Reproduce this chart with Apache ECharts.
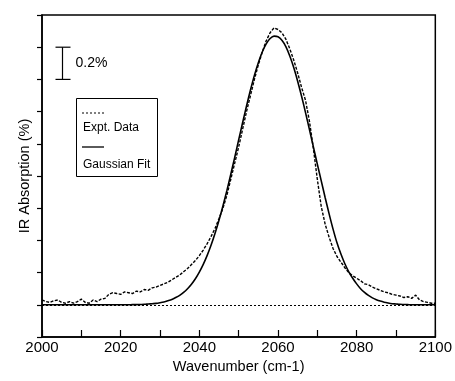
<!DOCTYPE html>
<html>
<head>
<meta charset="utf-8">
<script src="https://cdn.jsdelivr.net/npm/echarts@6/dist/echarts.min.js"></script>
<style>
  html, body { margin: 0; padding: 0; background: #fff; }
  #chart { width: 455px; height: 381px; }
</style>
</head>
<body>
<div id="chart"></div>
<script>
// wavenumber sampling, 1 cm-1 steps from 2000 to 2100
const startWavenumber = 2000
const wavenumbers = Array.from({ length: 101 }, (_, i) => startWavenumber + i)

// IR absorption (%), one value per wavenumber
const exptData = [
  0.03, 0.02, 0.015, 0.025, 0.03, 0.015, 0.01, 0.02, 0.01, 0.02,
  0.035, 0.015, 0.01, 0.03, 0.02, 0.035, 0.04, 0.065, 0.075, 0.07,
  0.065, 0.08, 0.075, 0.07, 0.085, 0.08, 0.095, 0.09, 0.105, 0.11,
  0.12, 0.13, 0.14, 0.155, 0.17, 0.185, 0.205, 0.225, 0.25, 0.275,
  0.305, 0.34, 0.38, 0.425, 0.475, 0.535, 0.6, 0.68, 0.78, 0.88,
  0.98, 1.09, 1.2, 1.3, 1.4, 1.49, 1.57, 1.64, 1.69, 1.72,
  1.71, 1.69, 1.65, 1.59, 1.52, 1.44, 1.35, 1.27, 1.14, 0.97,
  0.78, 0.61, 0.5, 0.42, 0.35, 0.3, 0.265, 0.23, 0.2, 0.18,
  0.165, 0.15, 0.13, 0.125, 0.11, 0.1, 0.09, 0.08, 0.075, 0.065,
  0.06, 0.055, 0.045, 0.05, 0.04, 0.06, 0.03, 0.02, 0.015, 0.01,
  0.01,
]
const gaussianFit = [
  0, 0, 0, 0, 0, 0, 0, 0, 0, 0,
  0, 0, 0, 0, 0, 0, 0, 0, 0, 0,
  0, 0, 0, 0.001, 0.001, 0.002, 0.003, 0.005, 0.007, 0.009,
  0.013, 0.018, 0.025, 0.033, 0.045, 0.059, 0.077, 0.1, 0.128, 0.162,
  0.203, 0.251, 0.307, 0.371, 0.444, 0.525, 0.614, 0.709, 0.811, 0.916,
  1.024, 1.131, 1.235, 1.334, 1.425, 1.504, 1.57, 1.621, 1.654, 1.669,
  1.665, 1.643, 1.603, 1.545, 1.474, 1.389, 1.295, 1.194, 1.088, 0.981,
  0.874, 0.77, 0.665, 0.565, 0.47, 0.385, 0.315, 0.255, 0.205, 0.165,
  0.13, 0.1, 0.077, 0.058, 0.043, 0.032, 0.023, 0.016, 0.011, 0.007,
  0.005, 0.003, 0.002, 0.001, 0, 0, 0, 0, 0, 0,
  0,
]

// scale bar: 0.2 % tall, drawn at 2005 cm-1
const scaleBarX = 2005
const scaleBarRange = [1.4, 1.6]
const scaleBarLabel = '0.2%'

const legendNames = ['Expt. Data', 'Gaussian Fit']

const font = "'Liberation Sans', Arial, Helvetica, sans-serif"
const chart = echarts.init(document.getElementById('chart'))

const pairs = (ys) => wavenumbers.map((x, i) => [x, ys[i]])

chart.setOption({
  animation: false,
  backgroundColor: '#fff',
  grid: {
    left: 42, right: 18, top: 15, bottom: 44,
    show: true, borderColor: '#000', borderWidth: 1.5, backgroundColor: 'transparent',
  },
  xAxis: {
    type: 'value',
    min: 2000, max: 2100, interval: 20,
    name: 'Wavenumber (cm-1)',
    nameLocation: 'middle',
    nameGap: 19,
    nameTextStyle: { color: '#000', fontSize: 14.5, fontFamily: font },
    axisLine: { onZero: false, lineStyle: { color: '#000', width: 1.5 } },
    axisTick: { inside: true, length: 7, lineStyle: { color: '#000', width: 1.2 } },
    minorTick: { show: true, splitNumber: 2, length: 7, lineStyle: { color: '#000', width: 1.2 } },
    axisLabel: { color: '#000', fontSize: 15, fontFamily: font, margin: 3, formatter: (v) => String(v) },
    splitLine: { show: false },
  },
  yAxis: {
    type: 'value',
    min: -0.2, max: 1.8, interval: 0.2,
    name: 'IR Absorption (%)',
    nameLocation: 'middle',
    nameGap: 10,
    nameTextStyle: { color: '#000', fontSize: 14.5, fontFamily: font },
    axisLine: { show: true, onZero: false, lineStyle: { color: '#000', width: 1.5 } },
    axisTick: { show: true, inside: false, length: 5, lineStyle: { color: '#000', width: 1.2 } },
    axisLabel: { show: false },
    splitLine: { show: false },
  },
  series: [
    {
      name: legendNames[1],
      type: 'line',
      data: pairs(gaussianFit),
      showSymbol: false,
      smooth: 0.3,
      lineStyle: { color: '#000', width: 1.6 },
      markLine: {
        silent: true,
        symbol: 'none',
        label: { show: false },
        lineStyle: { color: '#000', width: 1, type: [2, 2] },
        data: [{ yAxis: 0 }],
      },
      z: 3,
    },
    {
      name: legendNames[0],
      type: 'line',
      data: pairs(exptData),
      showSymbol: false,
      lineStyle: { color: '#000', width: 1.4, type: [3, 1.5] },
      z: 2,
    },
  ],
})

const barTop = chart.convertToPixel({ gridIndex: 0 }, [scaleBarX, scaleBarRange[1]])
const barBottom = chart.convertToPixel({ gridIndex: 0 }, [scaleBarX, scaleBarRange[0]])
const bx = Math.round(barTop[0]) + 0.5

chart.setOption({
  graphic: [
    // scale bar
    { type: 'line', shape: { x1: bx, y1: barTop[1], x2: bx, y2: barBottom[1] }, style: { stroke: '#000', lineWidth: 1.2 } },
    { type: 'line', shape: { x1: bx - 7, y1: barTop[1], x2: bx + 8, y2: barTop[1] }, style: { stroke: '#000', lineWidth: 1.2 } },
    { type: 'line', shape: { x1: bx - 7, y1: barBottom[1], x2: bx + 8, y2: barBottom[1] }, style: { stroke: '#000', lineWidth: 1.2 } },
    {
      type: 'text', x: bx + 13, y: (barTop[1] + barBottom[1]) / 2,
      style: { text: scaleBarLabel, fill: '#000', font: '14px ' + font, textVerticalAlign: 'middle' },
    },
    // legend box
    { type: 'rect', shape: { x: 76.5, y: 98.5, width: 81, height: 78 }, style: { fill: '#fff', stroke: '#000', lineWidth: 1 } },
    { type: 'line', shape: { x1: 82, y1: 113, x2: 104, y2: 113 }, style: { stroke: '#000', lineWidth: 1, lineDash: [2, 2] } },
    {
      type: 'text', x: 83, y: 128,
      style: { text: legendNames[0], fill: '#000', font: '12px ' + font, textVerticalAlign: 'middle' },
    },
    { type: 'line', shape: { x1: 82, y1: 147, x2: 104, y2: 147 }, style: { stroke: '#000', lineWidth: 1.3 } },
    {
      type: 'text', x: 83, y: 165,
      style: { text: legendNames[1], fill: '#000', font: '12px ' + font, textVerticalAlign: 'middle' },
    },
  ],
})
</script>
</body>
</html>
